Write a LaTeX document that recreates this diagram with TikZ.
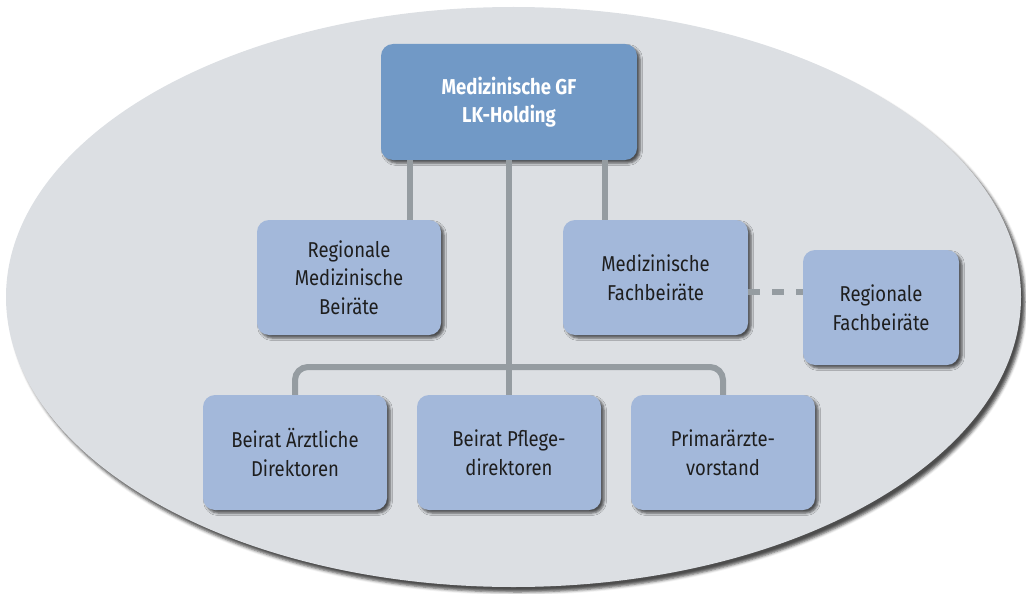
\documentclass[tikz,border=0pt]{standalone}
\usepackage{fontspec}
\setmainfont{Fira Sans}[FakeStretch=0.86]
\usetikzlibrary{shadows.blur,calc}
\definecolor{ellfill}{HTML}{DCDFE3}
\definecolor{boxfill}{HTML}{A3B8DA}
\definecolor{topfill}{HTML}{7199C6}
\definecolor{conncol}{HTML}{959CA1}
\definecolor{txtcol}{HTML}{1E1E1E}
\tikzset{
  box/.style={rectangle, rounded corners=12pt, fill=boxfill, align=center,
    text=txtcol, font=\fontsize{21.5}{28.5}\selectfont, inner sep=4pt,
    minimum height=115pt, minimum width=184pt,
    blur shadow={shadow xshift=3pt, shadow yshift=-3pt, shadow blur radius=2.5pt, shadow opacity=65}},
  topbox/.style={box, fill=topfill, text=white, font=\fontsize{21.5}{28.5}\selectfont\bfseries},
  conn/.style={draw=conncol, line width=6pt},
  dashconn/.style={draw=conncol, line width=6pt, dash pattern=on 12pt off 12pt}
}
\begin{document}
\begin{tikzpicture}[x=1pt,y=-1pt]
\useasboundingbox (0,0) rectangle (1026,594);
% background ellipse
\path[fill=ellfill, blur shadow={shadow xshift=4pt, shadow yshift=-5pt, shadow blur radius=3pt, shadow opacity=70}]
  (513.5,297) ellipse [x radius=507.5, y radius=290];

% nodes
\node[topbox, minimum width=256pt, minimum height=116pt] (top) at (509,102) {Medizinische GF\\LK-Holding};
\node[box] (rmb) at (349,277.5) {Regionale\\Medizinische\\Beiräte};
\node[box, minimum width=185pt] (mfb) at (655.5,277.5) {Medizinische\\Fachbeiräte};
\node[box, minimum width=156pt] (rfb) at (881,307.5) {Regionale\\Fachbeiräte};
\node[box] (bad) at (295,452.5) {Beirat Ärztliche\\Direktoren};
\node[box] (bpd) at (509,452.5) {Beirat Pflege-\\direktoren};
\node[box] (pav) at (723,452.5) {Primarärzte-\\vorstand};

% connectors (border to border)
\coordinate (cl) at (410,0);
\coordinate (cr) at (605,0);
\coordinate (bar) at (0,367);
\draw[conn] (top.south -| cl) -- (rmb.north -| cl);
\draw[conn] (top.south -| cr) -- (mfb.north -| cr);
\draw[conn] (top.south) -- (bpd.north);
\draw[conn, rounded corners=13pt] (bad.north) -- (bad.north |- bar) -- (pav.north |- bar) -- (pav.north);
\draw[dashconn] (mfb.east |- 0,292) -- (rfb.west |- 0,292);
\end{tikzpicture}
\end{document}
